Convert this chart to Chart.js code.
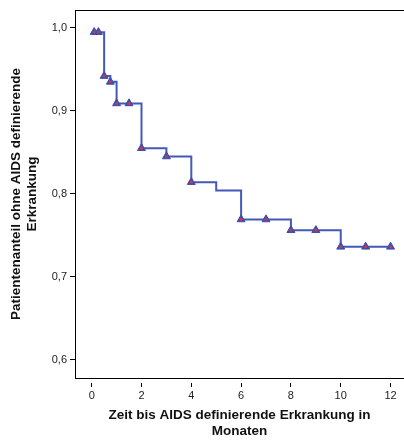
<!DOCTYPE html>
<html>
<head>
<meta charset="utf-8">
<script src="https://cdn.jsdelivr.net/npm/chart.js@4/dist/chart.umd.min.js"></script>
<style>
    body { margin: 0; background: #fff; }
    canvas { display: block; }
</style>
</head>
<body>
<canvas id="kmKurve" width="404" height="443"></canvas>
<script>
// Stufenfunktion (Kaplan-Meier): Zeitpunkte der Ereignisse und Überlebensanteil danach
const stufenZeit = [0, 0.5, 0.75, 1, 2, 3, 4, 5, 6, 8, 10, 12];
const stufenAnteil = [0.995, 0.942, 0.935, 0.909, 0.855, 0.845, 0.814, 0.804, 0.769, 0.756, 0.736, 0.736];

// zensierte Fälle (Dreiecke)
const zensiertZeit = [0.1, 0.27, 0.5, 0.75, 1, 1.5, 2, 3, 4, 6, 7, 8, 9, 10, 11, 12];
const zensiertAnteil = [0.995, 0.995, 0.942, 0.935, 0.909, 0.909, 0.855, 0.845, 0.814, 0.769, 0.769, 0.756, 0.756, 0.736, 0.736, 0.736];

const xTicks = [0, 2, 4, 6, 8, 10, 12];
const yTicks = [0.6, 0.7, 0.8, 0.9, 1.0];

const stufenPunkte = stufenZeit.map((t, i) => ({ x: t, y: stufenAnteil[i] }));
const zensiertPunkte = zensiertZeit.map((t, i) => ({ x: t, y: zensiertAnteil[i] }));

// obere Rahmenlinie
const rahmenOben = {
    id: 'rahmenOben',
    afterDraw(chart) {
        const { ctx, chartArea } = chart;
        ctx.save();
        ctx.strokeStyle = '#000';
        ctx.lineWidth = 1;
        ctx.beginPath();
        ctx.moveTo(chartArea.left, Math.round(chartArea.top) + 0.5);
        ctx.lineTo(chartArea.right, Math.round(chartArea.top) + 0.5);
        ctx.stroke();
        ctx.restore();
    }
};

const ctx = document.getElementById('kmKurve').getContext('2d');
new Chart(ctx, {
    type: 'scatter',
    data: {
        datasets: [
            {
                label: 'zensiert (Punkt)',
                data: zensiertPunkte,
                pointStyle: 'rect',
                pointRadius: 1.8,
                pointBackgroundColor: '#e8303a',
                pointBorderWidth: 0,
                showLine: false,
                order: 1
            },
            {
                label: 'zensiert',
                data: zensiertPunkte,
                pointStyle: 'triangle',
                pointRadius: 4.6,
                pointBackgroundColor: '#3a4fae',
                pointBorderColor: '#3a4fae',
                pointBorderWidth: 1,
                showLine: false,
                order: 2
            },
            {
                label: 'Überleben',
                data: stufenPunkte,
                showLine: true,
                stepped: 'before',
                borderColor: '#4458b8',
                borderWidth: 2,
                pointRadius: 0,
                fill: false,
                order: 3
            }
        ]
    },
    options: {
        responsive: false,
        animation: false,
        layout: { autoPadding: false, padding: { top: 10, left: 0, right: 0, bottom: 0 } },
        plugins: {
            legend: { display: false },
            tooltip: { enabled: false },
            title: { display: false }
        },
        scales: {
            x: {
                type: 'linear',
                min: -0.67,
                max: 12.54,
                afterBuildTicks: s => { s.ticks = xTicks.map(v => ({ value: v })); },
                afterFit: s => { s.height = 65; s.paddingLeft = 0; s.paddingRight = 0; },
                grid: {
                    drawOnChartArea: false,
                    tickLength: 9,
                    tickColor: '#000',
                    tickBorderDash: [5, 4],
                    tickBorderDashOffset: 5
                },
                border: { display: true, color: '#000', width: 1 },
                ticks: {
                    color: '#222',
                    padding: 2,
                    font: { family: 'Liberation Sans, Arial', size: 11 },
                    maxRotation: 0
                },
                title: {
                    display: true,
                    text: ['Zeit bis AIDS definierende Erkrankung in', 'Monaten'],
                    color: '#111',
                    padding: { top: 0, bottom: 3 },
                    font: { family: 'Liberation Sans, Arial', size: 13.5, weight: 'bold', lineHeight: 1.22 }
                }
            },
            y: {
                type: 'linear',
                min: 0.5777,
                max: 1.0217,
                afterBuildTicks: s => { s.ticks = yTicks.map(v => ({ value: v })); },
                afterFit: s => { s.width = 75; s.paddingTop = 0; s.paddingBottom = 0; },
                grid: {
                    drawOnChartArea: false,
                    tickLength: 5,
                    tickColor: '#000'
                },
                border: { display: true, color: '#000', width: 1 },
                ticks: {
                    color: '#222',
                    padding: 3,
                    font: { family: 'Liberation Sans, Arial', size: 11 },
                    callback: v => v.toFixed(1).replace('.', ',')
                },
                title: {
                    display: true,
                    text: ['Patientenanteil ohne AIDS definierende', 'Erkrankung'],
                    color: '#111',
                    padding: { top: 8, bottom: 0 },
                    font: { family: 'Liberation Sans, Arial', size: 13.5, weight: 'bold', lineHeight: 1.2 }
                }
            }
        }
    },
    plugins: [rahmenOben]
});
</script>
</body>
</html>
